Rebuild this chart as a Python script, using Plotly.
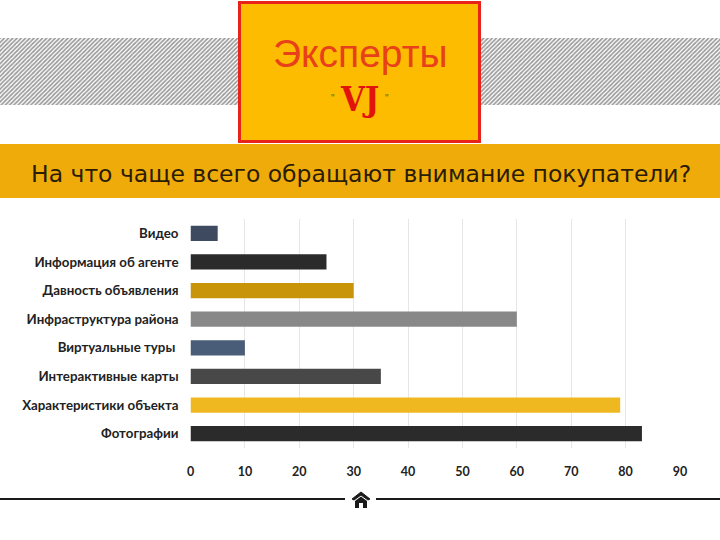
import plotly.graph_objects as go

categories = ["Видео", "Информация об агенте", "Давность объявления", "Инфраструктура района",
              "Виртуальные туры\u00a0", "Интерактивные карты", "Характеристики объекта", "Фотографии"]
values = [5, 25, 30, 60, 10, 35, 79, 83]
bar_colors = ["#3d4a60", "#2b2b2b", "#c8950a", "#888888", "#4a5d78", "#484848", "#f0b820", "#2b2b2b"]
x_ticks = [0, 10, 20, 30, 40, 50, 60, 70, 80, 90]

fig = go.Figure()

# hatched bands behind the title box, drawn on a pixel sized overlay axis
fig.add_trace(go.Bar(x=[119, 600], y=[67, 67], base=[38, 38], width=[238, 240], xaxis="x2", yaxis="y2",
                     marker=dict(color="white", line_width=0,
                                 pattern=dict(shape="/", size=3, solidity=0.55, fgcolor="#333333", bgcolor="white")),
                     hoverinfo="skip", showlegend=False))

fig.add_trace(go.Bar(x=values, y=categories, orientation="h", marker=dict(color=bar_colors, line_width=0),
                     showlegend=False))


def rect(x0, y0, x1, y1, fill, line=None, width=0):
    fig.add_shape(type="rect", xref="x2", yref="y2", x0=x0, y0=y0, x1=x1, y1=y1, fillcolor=fill,
                  line=dict(color=line, width=width) if line else dict(width=0))


def label(x, y, text, size, color, family, anchor="center"):
    fig.add_annotation(xref="x2", yref="y2", x=x, y=y, text=text, showarrow=False, xanchor=anchor, yanchor="middle",
                       font=dict(size=size, color=color, family=family))


rect(0, 144, 720, 198, "#efab0a")
rect(239.5, 2.5, 479.5, 141.5, "#fdbc00", "#e8231a", 3)
label(360, 53, "Эксперты", 39, "#e8401a", "Liberation Sans")
label(359, 99, "<b>VJ</b>", 34, "#e0140a", "DejaVu Serif Condensed")
label(333, 98, "\"", 10, "#7a5a10", "Liberation Sans")
label(387, 98, "\"", 10, "#7a5a10", "Liberation Sans")
label(361, 174, "На что чаще всего обращают внимание покупатели?", 23.5, "#2a1c05", "DejaVu Sans")

# bottom rule with the home icon
for x0, x1 in [(0, 345), (376, 720)]:
    fig.add_shape(type="line", xref="x2", yref="y2", x0=x0, x1=x1, y0=499, y1=499,
                  line=dict(color="#1a1a1a", width=2))
fig.add_shape(type="path", xref="x2", yref="y2", fillcolor="#1a1a1a", line=dict(color="#1a1a1a", width=1),
              path="M352,499 L361,492 L370,499 L368,500 L361,495 L354,500 Z")
fig.add_shape(type="path", xref="x2", yref="y2", fillcolor="#1a1a1a", line_width=0,
              path="M355,501 L361,496.5 L367,501 L367,508 L363,508 L363,503 L359,503 L359,508 L355,508 Z")

fig.update_layout(
    width=720, height=540, margin=dict(l=0, r=0, t=0, b=0, autoexpand=False),
    paper_bgcolor="white", plot_bgcolor="rgba(0,0,0,0)",
    bargap=0.47, barmode="overlay", showlegend=False,
    xaxis=dict(domain=[190.5 / 720, 680 / 720], range=[0, 90], tickvals=x_ticks, showgrid=True,
               gridcolor="#e6e6e6", gridwidth=1, zeroline=False, showline=False, ticks="",
               ticklabelstandoff=14, tickfont=dict(family="Lato", size=12.5, color="#222222", weight=700)),
    yaxis=dict(domain=[(540 - 448) / 540, (540 - 219) / 540], autorange="reversed", showgrid=False,
               zeroline=False, showline=False, ticks="", ticklabelstandoff=11,
               tickfont=dict(family="Lato", size=13.3, color="#222222", weight=700)),
    xaxis2=dict(domain=[0, 1], range=[0, 720], anchor="y2", visible=False, fixedrange=True),
    yaxis2=dict(domain=[0, 1], range=[540, 0], anchor="x2", visible=False, fixedrange=True),
)

# the page's default body margin would push the 720x540 figure off the window
fig.write_html("out.html", config=dict(displayModeBar=False),
               post_script="document.body.style.margin='0';document.documentElement.style.overflow='hidden';")
